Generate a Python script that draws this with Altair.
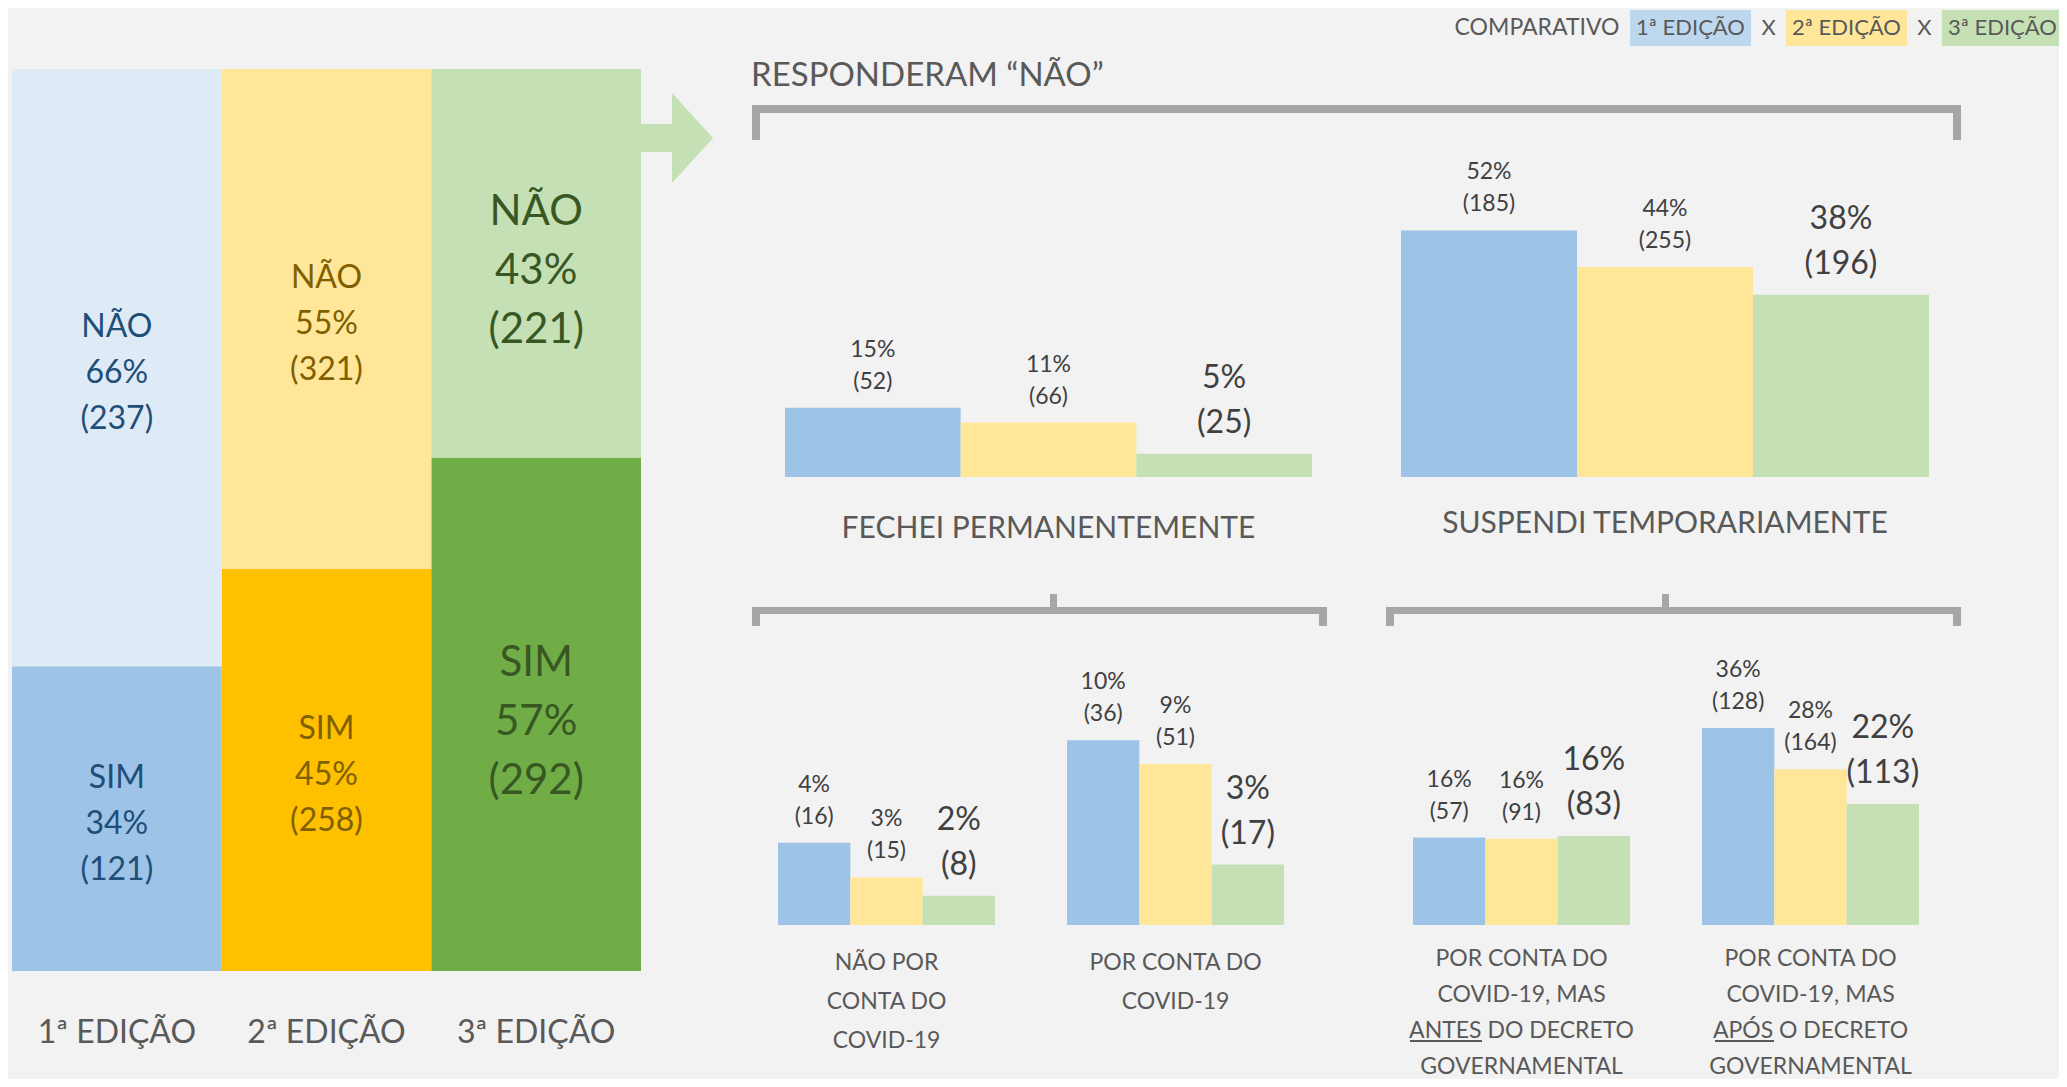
import altair as alt
import pandas as pd

FONT = "Lato"
BG = "#F2F2F2"
GRAY = "#A6A6A6"
TXT = "#595959"
VAL = "#404040"

editions = ["1ª edição", "2ª edição", "3ª edição"]

# ---- Left panel: answered Sim / Não per edition ----
sim_counts = [121, 258, 292]
nao_counts = [237, 321, 221]
sim_pct = ["34%", "45%", "57%"]
nao_pct = ["66%", "55%", "43%"]

# ---- "Responderam Não" breakdowns (bar heights in %, printed labels, counts) ----
fechei_vals = [14.5, 11.4, 4.9]
fechei_pct = ["15%", "11%", "5%"]
fechei_n = [52, 66, 25]

suspendi_vals = [51.7, 44.0, 38.2]
suspendi_pct = ["52%", "44%", "38%"]
suspendi_n = [185, 255, 196]

naocovid_vals = [4.5, 2.6, 1.6]
naocovid_pct = ["4%", "3%", "2%"]
naocovid_n = [16, 15, 8]

covid_vals = [10.1, 8.8, 3.3]
covid_pct = ["10%", "9%", "3%"]
covid_n = [36, 51, 17]

antes_vals = [15.9, 15.7, 16.2]
antes_pct = ["16%", "16%", "16%"]
antes_n = [57, 91, 83]

apos_vals = [35.8, 28.3, 22.0]
apos_pct = ["36%", "28%", "22%"]
apos_n = [128, 164, 113]

LEFT_KEYS = [f"{e}|{a}" for e in editions for a in ["Sim", "Não"]]
LEFT_COLORS = ["#9DC3E6", "#DEEBF7", "#FFC000", "#FFE699", "#70AD47", "#C5E0B4"]
LEFT_TEXT = ["#1F4E79", "#7F6000", "#385723"]
BAR_COLORS = ["#9DC3E6", "#FFE699", "#C5E0B4"]
LEG_COLORS = ["#BDD7EE", "#FFE699", "#C5E0B4"]

dummy = pd.DataFrame({"d": [1]})
layers = []

# ---------------- Left panel ----------------
left_df = pd.DataFrame({
    "edition": editions * 2,
    "answer": ["Sim"] * 3 + ["Não"] * 3,
    "count": sim_counts + nao_counts,
    "pct": sim_pct + nao_pct,
    "order": [0] * 3 + [1] * 3,
})
left_df["key"] = left_df["edition"] + "|" + left_df["answer"]
left_df["ans"] = left_df["answer"].str.upper()
left_df["cnt"] = "(" + left_df["count"].astype(str) + ")"
left_df["ed_lbl"] = left_df["edition"].str.upper()

xL = alt.X("edition:N", scale=alt.Scale(domain=editions, range=[4, 633], paddingInner=0, paddingOuter=0), axis=None)
yS = alt.Scale(domain=[0, 1], range=[963, 61], nice=False, zero=False)
left_base = alt.Chart(left_df).transform_stack(
    stack="count", groupby=["edition"], as_=["y0", "y1"], offset="normalize",
    sort=[alt.SortField("order", order="ascending")]
).transform_calculate(mid="(datum.y0 + datum.y1) / 2")

left_layers = [
    left_base.mark_bar().encode(
        x=xL, y=alt.Y("y0:Q", scale=yS, axis=None), y2="y1:Q",
        fill=alt.Fill("key:N", scale=alt.Scale(domain=LEFT_KEYS, range=LEFT_COLORS), legend=None),
    )
]
for i, ed in enumerate(editions):
    fs = 32 if i < 2 else 42
    lh = 46 if i < 2 else 59
    shift = 5 if i < 2 else 8
    for j, fld in enumerate(["ans", "pct", "cnt"]):
        left_layers.append(
            left_base.transform_filter(alt.datum.edition == ed).mark_text(
                font=FONT, fontSize=fs, color=LEFT_TEXT[i], dy=(j - 1) * lh + shift
            ).encode(x=xL, y=alt.Y("mid:Q", scale=yS, axis=None), text=f"{fld}:N")
        )
left_layers.append(
    alt.Chart(left_df).transform_filter(alt.datum.answer == "Sim").mark_text(
        font=FONT, fontSize=32, color=TXT, dy=62
    ).encode(x=xL, y=alt.Y(datum=0, scale=yS), text="ed_lbl:N")
)
layers.append(alt.layer(*left_layers))

# ---------------- Arrow ----------------
ARROW = "M -0.811 -0.311 L -0.1 -0.311 L -0.1 -1 L 0.811 0 L -0.1 1 L -0.1 0.311 L -0.811 0.311 Z"
layers.append(
    alt.Chart(dummy).mark_point(shape=ARROW, size=8100, filled=True, fill="#C5E0B4", strokeWidth=0, opacity=1)
    .encode(x=alt.value(668.5), y=alt.value(130))
)

# ---------------- Title ----------------
layers.append(
    alt.Chart(dummy).mark_text(font=FONT, fontSize=33, color=TXT, align="left", text="RESPONDERAM “NÃO”")
    .encode(x=alt.value(743), y=alt.value(68))
)

# ---------------- Brackets and underlines ----------------
pieces = [
    (744, 1953, 97, 105), (744, 752, 97, 132), (1945, 1953, 97, 132),
    (744, 1319, 599, 606), (744, 752, 599, 618), (1311, 1319, 599, 618), (1042, 1049, 586, 606),
    (1378, 1953, 599, 606), (1378, 1386, 599, 618), (1945, 1953, 599, 618), (1654, 1661, 586, 606),
]
for (a, b, c, d) in pieces:
    layers.append(
        alt.Chart(dummy).mark_rect(color=GRAY).encode(
            x=alt.value(a), x2=alt.value(b), y=alt.value(c), y2=alt.value(d)
        )
    )
for (a, b, c, d) in [(1402, 1474, 1032, 1034), (1707, 1766, 1032, 1034)]:
    layers.append(
        alt.Chart(dummy).mark_rect(color=TXT).encode(
            x=alt.value(a), x2=alt.value(b), y=alt.value(c), y2=alt.value(d)
        )
    )

# ---------------- Legend ----------------
leg_df = pd.DataFrame({"edition": editions, "lab": [e.upper() for e in editions]})
xLeg = alt.X("edition:N", scale=alt.Scale(domain=editions, range=[1622, 2055], paddingInner=0.224, paddingOuter=0), axis=None)
leg_base = alt.Chart(leg_df)
layers.append(alt.layer(
    leg_base.mark_bar().encode(
        x=xLeg, y=alt.value(2), y2=alt.value(38),
        fill=alt.Fill("edition:N", scale=alt.Scale(domain=editions, range=LEG_COLORS), legend=None),
    ),
    leg_base.mark_text(font=FONT, fontSize=22, color=TXT).encode(x=xLeg, y=alt.value(20), text="lab:N"),
    leg_base.transform_filter(alt.datum.edition != editions[2]).mark_text(
        font=FONT, fontSize=22, color=TXT, dx=78, text="X").encode(x=xLeg, y=alt.value(20)),
    leg_base.transform_filter(alt.datum.edition == editions[0]).mark_text(
        font=FONT, fontSize=23, color=TXT, dx=-71, align="right", text="COMPARATIVO").encode(x=xLeg, y=alt.value(20)),
))


# ---------------- Bar groups ----------------
def group(vals, pcts, ns, label, xr, ydom, yr, lab_dy, lab_size, lab_lh):
    df = pd.DataFrame({"edition": editions, "value": vals, "pct": pcts,
                       "n": [f"({v})" for v in ns]})
    x = alt.X("edition:N", scale=alt.Scale(domain=editions, range=xr, paddingInner=0, paddingOuter=0), axis=None)
    y = alt.Y("value:Q", scale=alt.Scale(domain=ydom, range=yr, nice=False, zero=True), axis=None)
    base = alt.Chart(df)
    small = base.transform_filter(alt.datum.edition != editions[2])
    big = base.transform_filter(alt.datum.edition == editions[2])
    return alt.layer(
        base.mark_bar().encode(
            x=x, y=y,
            fill=alt.Fill("edition:N", scale=alt.Scale(domain=editions, range=BAR_COLORS), legend=None),
        ),
        small.mark_text(font=FONT, fontSize=23, color=VAL, dy=-58).encode(x=x, y=y, text="pct:N"),
        small.mark_text(font=FONT, fontSize=23, color=VAL, dy=-26).encode(x=x, y=y, text="n:N"),
        big.mark_text(font=FONT, fontSize=32, color=VAL, dy=-76).encode(x=x, y=y, text="pct:N"),
        big.mark_text(font=FONT, fontSize=32, color=VAL, dy=-31).encode(x=x, y=y, text="n:N"),
        alt.Chart(pd.DataFrame({"t": [label]})).mark_text(
            font=FONT, fontSize=lab_size, color=TXT, baseline="top", lineBreak="\n",
            lineHeight=lab_lh, dy=lab_dy,
        ).encode(x=alt.X(datum=editions[1]), y=alt.Y(datum=0), text="t:N"),
    )


TOP_Y = ([0, 100], [469, -8])
layers.append(group(fechei_vals, fechei_pct, fechei_n, "FECHEI PERMANENTEMENTE",
                    [777, 1304], *TOP_Y, 37, 30, 36))
layers.append(group(suspendi_vals, suspendi_pct, suspendi_n, "SUSPENDI TEMPORARIAMENTE",
                    [1393, 1921], *TOP_Y, 32, 30, 36))
BL_Y = ([0, 10], [917, 734])
layers.append(group(naocovid_vals, naocovid_pct, naocovid_n, "NÃO POR\nCONTA DO\nCOVID-19",
                    [770, 987], *BL_Y, 27, 23, 39))
layers.append(group(covid_vals, covid_pct, covid_n, "POR CONTA DO\nCOVID-19",
                    [1059, 1276], *BL_Y, 27, 23, 39))
BR_Y = ([0, 40], [917, 697])
layers.append(group(antes_vals, antes_pct, antes_n,
                    "POR CONTA DO\nCOVID-19, MAS\nANTES DO DECRETO\nGOVERNAMENTAL",
                    [1405, 1622], *BR_Y, 23, 23, 36))
layers.append(group(apos_vals, apos_pct, apos_n,
                    "POR CONTA DO\nCOVID-19, MAS\nAPÓS O DECRETO\nGOVERNAMENTAL",
                    [1694, 1911], *BR_Y, 23, 23, 36))

chart = alt.layer(*layers).resolve_scale(
    x="independent", y="independent", fill="independent"
).properties(
    width=2051, height=1071, background=BG, padding=0,
    autosize=alt.AutoSizeParams(type="none"),
).configure_view(stroke=None)

chart.save("out.html", embed_options={"renderer": "svg", "actions": False})
